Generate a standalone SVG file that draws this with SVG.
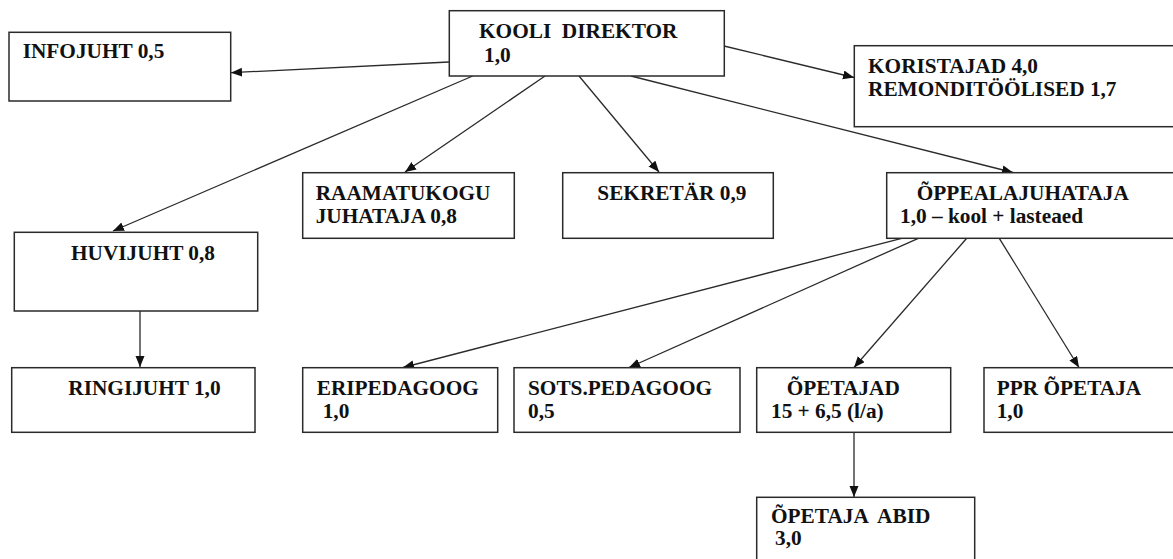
<svg xmlns="http://www.w3.org/2000/svg" width="1173" height="559" viewBox="0 0 1173 559">
<style>
.box{fill:#fff;stroke:#2a2a2a;stroke-width:1.5}
.t{font-family:"Liberation Serif","Times New Roman",Times,"DejaVu Serif",serif;font-weight:bold;font-size:21.3px;fill:#111}
.c{fill:none;stroke:#2a2a2a;stroke-width:1.3;marker-end:url(#ah)}
</style>
<defs>
<marker id="ah" markerUnits="userSpaceOnUse" markerWidth="12" markerHeight="10" refX="11" refY="4.5" orient="auto">
<path d="M0,0 L11,4.5 L0,9 z" fill="#111"/>
</marker>
</defs>
<rect width="1173" height="559" fill="#fff"/>
<g id="connectors">
<line class="c" x1="449" y1="62" x2="231" y2="72.7"/>
<line class="c" x1="724" y1="46" x2="854" y2="77.5"/>
<line class="c" x1="472.7" y1="76" x2="113" y2="231"/>
<line class="c" x1="545" y1="76" x2="405" y2="172"/>
<line class="c" x1="579" y1="76" x2="659" y2="172"/>
<line class="c" x1="631" y1="76" x2="1013" y2="172.5"/>
<line class="c" x1="140" y1="311" x2="140" y2="367"/>
<line class="c" x1="901.7" y1="238.3" x2="403" y2="367.5"/>
<line class="c" x1="918.3" y1="238.3" x2="629" y2="367.5"/>
<line class="c" x1="966.7" y1="238.3" x2="854" y2="367.5"/>
<line class="c" x1="999.3" y1="238.3" x2="1079" y2="367.5"/>
<line class="c" x1="854" y1="432.3" x2="854" y2="497"/>
</g>
<g id="kooli-direktor">
<rect class="box" x="449.3" y="10.7" width="275" height="65.3"/>
<text class="t" x="479" y="38.3" xml:space="preserve">KOOLI  DIREKTOR</text>
<text class="t" x="484" y="61.7">1,0</text>
</g>
<g id="infojuht">
<rect class="box" x="9" y="32.3" width="221.7" height="68.7"/>
<text class="t" x="22.7" y="58.3">INFOJUHT 0,5</text>
</g>
<g id="koristajad">
<rect class="box" x="854.3" y="45.7" width="330" height="81"/>
<text class="t" x="868" y="73.3">KORISTAJAD 4,0</text>
<text class="t" x="868" y="95.7">REMONDITÖÖLISED 1,7</text>
</g>
<g id="huvijuht">
<rect class="box" x="14.3" y="232.3" width="243.4" height="78.7"/>
<text class="t" x="71" y="260">HUVIJUHT 0,8</text>
</g>
<g id="raamatukogu">
<rect class="box" x="302.7" y="172.7" width="211.6" height="65.6"/>
<text class="t" x="315.7" y="200">RAAMATUKOGU</text>
<text class="t" x="315.7" y="223.3">JUHATAJA 0,8</text>
</g>
<g id="sekretar">
<rect class="box" x="562.7" y="172.7" width="210.6" height="65.6"/>
<text class="t" x="597.3" y="200">SEKRETÄR 0,9</text>
</g>
<g id="oppealajuhataja">
<rect class="box" x="886.7" y="172.7" width="300" height="65.6"/>
<text class="t" x="916.7" y="200">ÕPPEALAJUHATAJA</text>
<text class="t" x="900" y="223.3">1,0 – kool + lasteaed</text>
</g>
<g id="ringijuht">
<rect class="box" x="11.7" y="367.7" width="243.3" height="64.6"/>
<text class="t" x="68.3" y="395">RINGIJUHT 1,0</text>
</g>
<g id="eripedagoog">
<rect class="box" x="302.7" y="367.7" width="195" height="64.6"/>
<text class="t" x="316.7" y="395">ERIPEDAGOOG</text>
<text class="t" x="322.7" y="418.3">1,0</text>
</g>
<g id="sotspedagoog">
<rect class="box" x="514" y="367.7" width="226" height="64.6"/>
<text class="t" x="528" y="395">SOTS.PEDAGOOG</text>
<text class="t" x="528" y="418.3">0,5</text>
</g>
<g id="opetajad">
<rect class="box" x="756.7" y="367.7" width="194" height="64.6"/>
<text class="t" x="786.7" y="395">ÕPETAJAD</text>
<text class="t" x="771" y="418.3">15 + 6,5 (l/a)</text>
</g>
<g id="ppr-opetaja">
<rect class="box" x="984" y="367.7" width="200" height="64.6"/>
<text class="t" x="996.7" y="395">PPR ÕPETAJA</text>
<text class="t" x="996.7" y="418.3">1,0</text>
</g>
<g id="opetaja-abid">
<rect class="box" x="756.7" y="497.3" width="218" height="70"/>
<text class="t" x="771" y="523.3" xml:space="preserve">ÕPETAJA  ABID</text>
<text class="t" x="775" y="545">3,0</text>
</g>
</svg>
